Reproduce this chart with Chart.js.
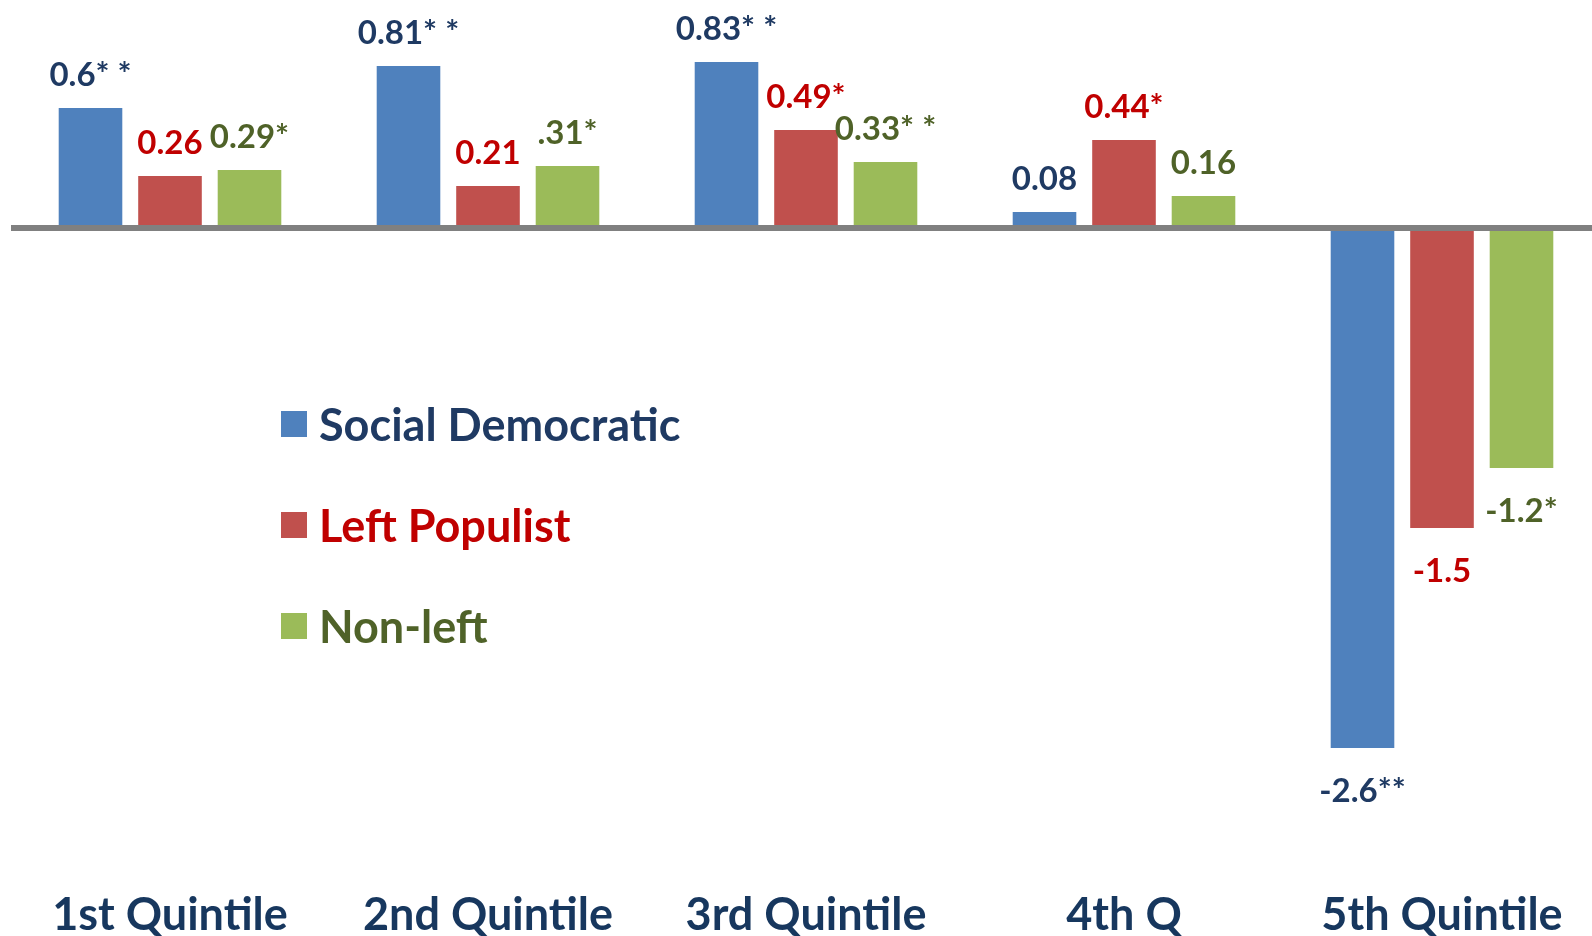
<!DOCTYPE html>
<html lang="en">

<head>
    <meta charset="UTF-8">
    <title>Quintile effects by party family</title>
    <script src="https://cdn.jsdelivr.net/npm/chart.js"></script>
    <style>
        html, body {
            margin: 0;
            padding: 0;
            background: #ffffff;
            overflow: hidden;
        }

        #chart-container {
            width: 1604px;
            height: 948px;
        }
    </style>
</head>

<body>
    <div id="chart-container">
        <canvas id="quintileChart"></canvas>
    </div>

    <script>
        // Data
        var categories = ['1st Quintile', '2nd Quintile', '3rd Quintile', '4th Q', '5th Quintile'];
        var seriesNames = ['Social Democratic', 'Left Populist', 'Non-left'];

        var socialDemValues = [0.6, 0.81, 0.83, 0.08, -2.6];
        var leftPopValues = [0.26, 0.21, 0.49, 0.44, -1.5];
        var nonLeftValues = [0.29, 0.31, 0.33, 0.16, -1.2];

        // text shown above / below each bar
        var socialDemLabels = ['0.6* *', '0.81* *', '0.83* *', '0.08', '-2.6**'];
        var leftPopLabels = ['0.26', '0.21', '0.49*', '0.44*', '-1.5'];
        var nonLeftLabels = ['0.29*', '.31*', '0.33* *', '0.16', '-1.2*'];

        var barColors = ['#4F81BD', '#C0504D', '#9BBB59'];
        var textColors = ['#1F3A63', '#C00000', '#4F6228'];
        var fontName = 'Lato, "Open Sans", sans-serif';

        // bar value labels
        var valueLabelPlugin = {
            id: 'valueLabels',
            afterDatasetsDraw: function (chart) {
                var ctx = chart.ctx;
                var allLabels = [socialDemLabels, leftPopLabels, nonLeftLabels];
                ctx.save();
                ctx.font = 'bold 33px ' + fontName;
                ctx.textAlign = 'center';
                ctx.textBaseline = 'middle';
                chart.data.datasets.forEach(function (ds, i) {
                    var meta = chart.getDatasetMeta(i);
                    ctx.fillStyle = textColors[i];
                    meta.data.forEach(function (bar, j) {
                        var v = ds.data[j];
                        var y = v >= 0 ? bar.y - 33 : bar.y + 43;
                        ctx.fillText(allLabels[i][j], bar.x, y);
                    });
                });
                ctx.restore();
            }
        };

        // legend in the middle of the plot
        var innerLegendPlugin = {
            id: 'innerLegend',
            afterDraw: function (chart) {
                var ctx = chart.ctx;
                var left = 281, top = 424, gap = 101, box = 26;
                ctx.save();
                ctx.font = 'bold 45px ' + fontName;
                ctx.textAlign = 'left';
                ctx.textBaseline = 'middle';
                chart.data.datasets.forEach(function (ds, i) {
                    var cy = top + i * gap;
                    ctx.fillStyle = ds.backgroundColor;
                    ctx.fillRect(left, cy - box / 2, box, box);
                    ctx.fillStyle = textColors[i];
                    ctx.fillText(ds.label, left + box + 12, cy + 2);
                });
                ctx.restore();
            }
        };

        var ctx = document.getElementById('quintileChart').getContext('2d');
        var quintileChart = new Chart(ctx, {
            type: 'bar',
            data: {
                labels: categories,
                datasets: [
                    {
                        label: seriesNames[0],
                        backgroundColor: barColors[0],
                        data: socialDemValues
                    },
                    {
                        label: seriesNames[1],
                        backgroundColor: barColors[1],
                        data: leftPopValues
                    },
                    {
                        label: seriesNames[2],
                        backgroundColor: barColors[2],
                        data: nonLeftValues
                    }
                ]
            },
            plugins: [valueLabelPlugin, innerLegendPlugin],
            options: {
                responsive: true,
                maintainAspectRatio: false,
                animation: false,
                layout: {
                    padding: { left: 11, right: 3, top: 0, bottom: 0 }
                },
                categoryPercentage: 0.75,
                barPercentage: 0.8,
                plugins: {
                    legend: { display: false },
                    tooltip: { enabled: false }
                },
                scales: {
                    x: {
                        grid: { display: false, drawTicks: false },
                        border: { display: false },
                        ticks: {
                            padding: 10,
                            color: '#17375E',
                            font: { family: fontName, size: 45, weight: 'bold', lineHeight: 1 }
                        }
                    },
                    y: {
                        min: -3.275,
                        max: 1.14,
                        border: { display: false },
                        ticks: { display: false, stepSize: 1 },
                        grid: {
                            drawTicks: false,
                            z: 1,
                            lineWidth: 6,
                            color: function (c) {
                                return c.tick && c.tick.value === 0 ? '#808080' : 'rgba(0,0,0,0)';
                            }
                        }
                    }
                }
            }
        });
    </script>
</body>

</html>
